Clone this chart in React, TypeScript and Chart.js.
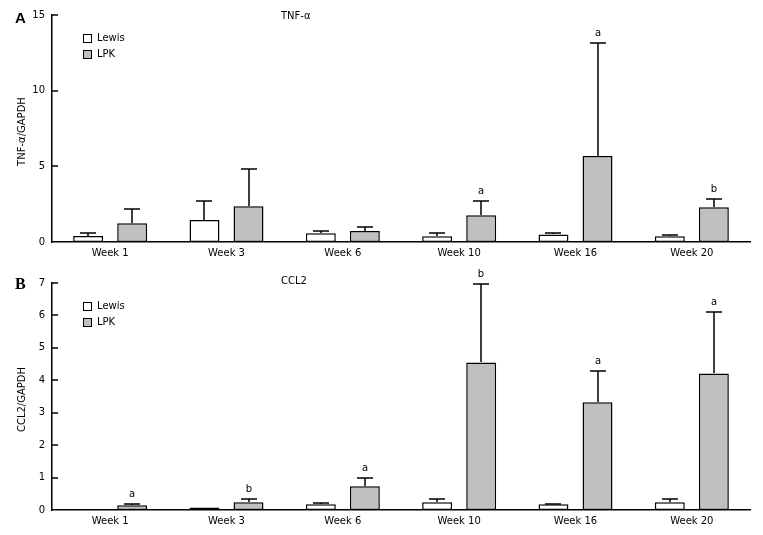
import React, { useEffect, useRef } from "react";
import { Chart, registerables } from "chart.js";
Chart.register(...registerables);

const categories = ["Week 1", "Week 3", "Week 6", "Week 10", "Week 16", "Week 20"];
const seriesNames = ["Lewis", "LPK"];

const tnfLewis = [0.4, 1.45, 0.57, 0.38, 0.5, 0.38];
const tnfLewisErr = [0.17, 1.25, 0.13, 0.19, 0.07, 0.06];
const tnfLpk = [1.24, 2.36, 0.73, 1.76, 5.68, 2.29];
const tnfLpkErr = [0.92, 2.44, 0.27, 0.93, 7.49, 0.53];
const tnfLetters = ["", "", "", "a", "a", "b"];
const tnfTicks = [0, 5, 10, 15];

const ccl2Lewis = [0.03, 0.08, 0.18, 0.24, 0.18, 0.24];
const ccl2LewisErr = [0, 0, 0.05, 0.09, 0.01, 0.09];
const ccl2Lpk = [0.15, 0.24, 0.73, 4.55, 3.32, 4.21];
const ccl2LpkErr = [0.03, 0.09, 0.27, 2.41, 0.96, 1.89];
const ccl2Letters = ["a", "b", "a", "b", "a", "a"];
const ccl2Ticks = [0, 1, 2, 3, 4, 5, 6, 7];

const FONT = "'DejaVu Sans', Verdana, sans-serif";
const FILLS = ["#ffffff", "#c0c0c0"];
const LW = 1.5;

type PanelCfg = {
  letter: string;
  letterFont: string;
  letterY: number;
  title: string;
  titleDy: number;
  yTitle: string;
  lewis: number[];
  lewisErr: number[];
  lpk: number[];
  lpkErr: number[];
  letters: string[];
  ticks: number[];
  max: number;
  topPad: number;
  xHeight: number;
};

function makePlugin(cfg: PanelCfg) {
  return {
    id: "panelDecor",
    afterDatasetsDraw(chart: any) {
      const ctx = chart.ctx;
      const ys = chart.scales.y;
      const errs = [cfg.lewisErr, cfg.lpkErr];
      const means = [cfg.lewis, cfg.lpk];
      ctx.save();
      ctx.strokeStyle = "#000";
      ctx.lineWidth = LW;
      for (let d = 0; d < 2; d++) {
        const meta = chart.getDatasetMeta(d);
        meta.data.forEach((bar: any, i: number) => {
          const e = errs[d][i];
          const x = Math.round(bar.x);
          const yTop = Math.round(ys.getPixelForValue(means[d][i] + e));
          const yb = Math.round(bar.y);
          if (e > 0) {
            ctx.beginPath();
            ctx.moveTo(x, yb);
            ctx.lineTo(x, yTop);
            ctx.moveTo(x - 8, yTop);
            ctx.lineTo(x + 8, yTop);
            ctx.stroke();
          }
          if (d === 1 && cfg.letters[i]) {
            ctx.fillStyle = "#000";
            ctx.font = `10px ${FONT}`;
            ctx.textAlign = "center";
            ctx.textBaseline = "alphabetic";
            ctx.fillText(cfg.letters[i], x, yTop - 7);
          }
        });
      }
      ctx.restore();
    },
    afterDraw(chart: any) {
      const ctx = chart.ctx;
      const ys = chart.scales.y;
      const { left, top, bottom } = chart.chartArea;
      ctx.save();
      ctx.strokeStyle = "#000";
      ctx.lineWidth = LW;
      // inward ticks
      cfg.ticks.forEach((v) => {
        if (v === 0) return;
        const y = Math.round(ys.getPixelForValue(v));
        ctx.beginPath();
        ctx.moveTo(left, y);
        ctx.lineTo(left + 6, y);
        ctx.stroke();
      });
      // legend
      ctx.lineWidth = 1;
      ctx.font = `10px ${FONT}`;
      ctx.textAlign = "left";
      ctx.textBaseline = "middle";
      seriesNames.forEach((name, i) => {
        const bx = left + 31.5;
        const by = top + 19.5 + i * 16;
        ctx.fillStyle = FILLS[i];
        ctx.fillRect(bx, by, 8, 8);
        ctx.strokeRect(bx, by, 8, 8);
        ctx.fillStyle = "#000";
        ctx.fillText(name, left + 45, by + 4);
      });
      // title
      ctx.fillText(cfg.title, left + 229, top + cfg.titleDy);
      // y title
      ctx.save();
      ctx.translate(22, (top + bottom) / 2 + 3);
      ctx.rotate(-Math.PI / 2);
      ctx.textAlign = "center";
      ctx.textBaseline = "middle";
      ctx.fillText(cfg.yTitle, 0, 0);
      ctx.restore();
      // panel letter
      ctx.font = cfg.letterFont;
      ctx.textAlign = "left";
      ctx.textBaseline = "alphabetic";
      ctx.fillText(cfg.letter, 15, cfg.letterY);
      ctx.restore();
    },
  };
}

function Panel({ cfg, width, height, top }: { cfg: PanelCfg; width: number; height: number; top: number }) {
  const ref = useRef<HTMLCanvasElement | null>(null);
  useEffect(() => {
    if (!ref.current) return;
    const chart = new Chart(ref.current, {
      type: "bar",
      data: {
        labels: categories,
        datasets: [
          {
            label: seriesNames[0],
            data: cfg.lewis,
            backgroundColor: FILLS[0],
            borderColor: "#000",
            borderWidth: LW,
            borderSkipped: false,
          },
          {
            label: seriesNames[1],
            data: cfg.lpk,
            backgroundColor: FILLS[1],
            borderColor: "#000",
            borderWidth: LW,
            borderSkipped: false,
          },
        ],
      },
      options: {
        animation: false,
        responsive: false,
        devicePixelRatio: 1,
        datasets: { bar: { categoryPercentage: 0.757, barPercentage: 0.68 } },
        layout: { padding: { left: 0, right: 13, top: cfg.topPad, bottom: 0 } },
        plugins: { legend: { display: false }, tooltip: { enabled: false }, title: { display: false } },
        scales: {
          x: {
            grid: { display: false, drawTicks: false },
            border: { display: true, color: "#000", width: LW },
            ticks: { color: "#000", font: { family: FONT, size: 10 }, padding: 5, maxRotation: 0, autoSkip: false },
            afterFit: (s: any) => {
              s.height = cfg.xHeight;
            },
          },
          y: {
            min: 0,
            max: cfg.max,
            grid: { display: false, drawTicks: false },
            border: { display: true, color: "#000", width: LW },
            ticks: { color: "#000", font: { family: FONT, size: 10 }, padding: 7 },
            afterBuildTicks: (s: any) => {
              s.ticks = cfg.ticks.map((v) => ({ value: v }));
            },
            afterFit: (s: any) => {
              s.width = 52;
            },
          },
        },
      },
      plugins: [makePlugin(cfg)],
    } as any);
    return () => chart.destroy();
  }, []);
  return (
    <canvas
      ref={ref}
      width={width}
      height={height}
      style={{ position: "absolute", left: 0, top, width, height, display: "block" }}
    />
  );
}

const panelA: PanelCfg = {
  letter: "A",
  letterFont: "bold 15px 'Liberation Sans', Arial, sans-serif",
  letterY: 23,
  title: "TNF-\u03b1",
  titleDy: 1,
  yTitle: "TNF-\u03b1/GAPDH",
  lewis: tnfLewis,
  lewisErr: tnfLewisErr,
  lpk: tnfLpk,
  lpkErr: tnfLpkErr,
  letters: tnfLetters,
  ticks: tnfTicks,
  max: 15,
  topPad: 15,
  xHeight: 20,
};

const panelB: PanelCfg = {
  letter: "B",
  letterFont: "bold 16px 'Liberation Serif', 'Times New Roman', serif",
  letterY: 27,
  title: "CCL2",
  titleDy: -2,
  yTitle: "CCL2/GAPDH",
  lewis: ccl2Lewis,
  lewisErr: ccl2LewisErr,
  lpk: ccl2Lpk,
  lpkErr: ccl2LpkErr,
  letters: ccl2Letters,
  ticks: ccl2Ticks,
  max: 7,
  topPad: 21,
  xHeight: 25,
};

export default function App() {
  return (
    <div style={{ position: "absolute", left: 0, top: 0, width: 763, height: 535, background: "#fff", overflow: "hidden" }}>
      <Panel cfg={panelA} width={763} height={262} top={0} />
      <Panel cfg={panelB} width={763} height={273} top={262} />
    </div>
  );
}
